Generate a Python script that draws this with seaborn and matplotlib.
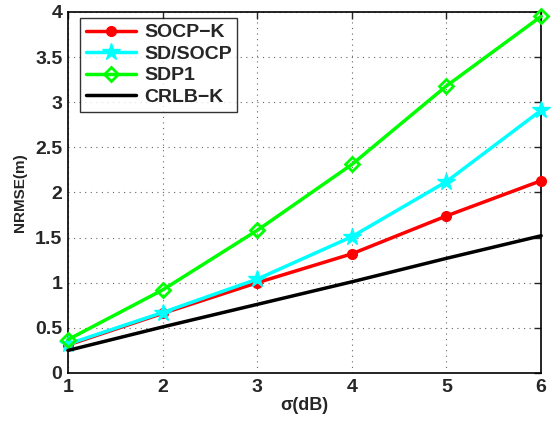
import matplotlib
matplotlib.use("Agg")
import matplotlib.pyplot as plt
import seaborn as sns
import pandas as pd

sigma = [1, 2, 3, 4, 5, 6]
socp_k = [0.31, 0.66, 1.00, 1.32, 1.74, 2.13]
sd_socp = [0.32, 0.67, 1.04, 1.51, 2.12, 2.91]
sdp1 = [0.37, 0.92, 1.58, 2.31, 3.18, 3.95]
crlb_k = [0.25, 0.51, 0.76, 1.01, 1.27, 1.52]

series = ["SOCP\u2212K", "SD/SOCP", "SDP1", "CRLB\u2212K"]
values = [socp_k, sd_socp, sdp1, crlb_k]
colors = ["#ff0000", "#00ffff", "#00ff00", "#000000"]
markers = ["o", "*", "D", ""]
msizes = [7, 13, 7, 0]
mfc = ["#ff0000", "#00ffff", "none", "none"]

rows = []
for name, vals in zip(series, values):
    for x, v in zip(sigma, vals):
        rows.append({"sigma": x, "value": v, "series": name})
df = pd.DataFrame(rows)

sns.set_style("white")
plt.rcParams['font.family'] = ['Liberation Sans', 'DejaVu Sans']
plt.rcParams['font.weight'] = 'bold'

fig = plt.figure(figsize=(5.55, 4.24), dpi=100)
ax = fig.add_axes([0.1225, 0.1203, 0.8525, 0.8517])

for name, c, m, ms, fc in zip(series, colors, markers, msizes, mfc):
    sub = df[df.series == name]
    sns.lineplot(data=sub, x="sigma", y="value", ax=ax, color=c, linewidth=2.5,
                 marker=m if m else None, markersize=ms, markerfacecolor=fc,
                 markeredgecolor=c, markeredgewidth=2 if m == "D" else 1,
                 label=name, clip_on=False, zorder=3)

ax.set_xlim(1, 6)
ax.set_ylim(0, 4)
ax.set_xticks(sigma)
ax.set_yticks([0, 0.5, 1, 1.5, 2, 2.5, 3, 3.5, 4])
ax.set_yticklabels(["0", "0.5", "1", "1.5", "2", "2.5", "3", "3.5", "4"])
ax.grid(True, linestyle=(0, (1, 4)), color="#666666", linewidth=0.8)
ax.tick_params(direction="in", length=5, width=1, labelsize=14, top=True, right=True, pad=4)
for lab in ax.get_xticklabels() + ax.get_yticklabels():
    lab.set_fontweight("bold")
for s in ax.spines.values():
    s.set_visible(True)
    s.set_color("black")
    s.set_linewidth(1.2)

ax.set_xlabel("\u03c3(dB)", fontsize=13, fontweight="bold", labelpad=1)
ax.set_ylabel("NRMSE(m)", fontsize=11, fontweight="bold", labelpad=6)

leg = ax.legend(loc="upper left", bbox_to_anchor=(0.025, 0.983), borderaxespad=0,
                fontsize=14, frameon=True, fancybox=False, edgecolor="black",
                handlelength=2.6, borderpad=0.3, labelspacing=0.2, handletextpad=0.4)
leg.get_frame().set_linewidth(1.0)
for t in leg.get_texts():
    t.set_fontweight("bold")

fig.savefig("out.png", dpi=100)
